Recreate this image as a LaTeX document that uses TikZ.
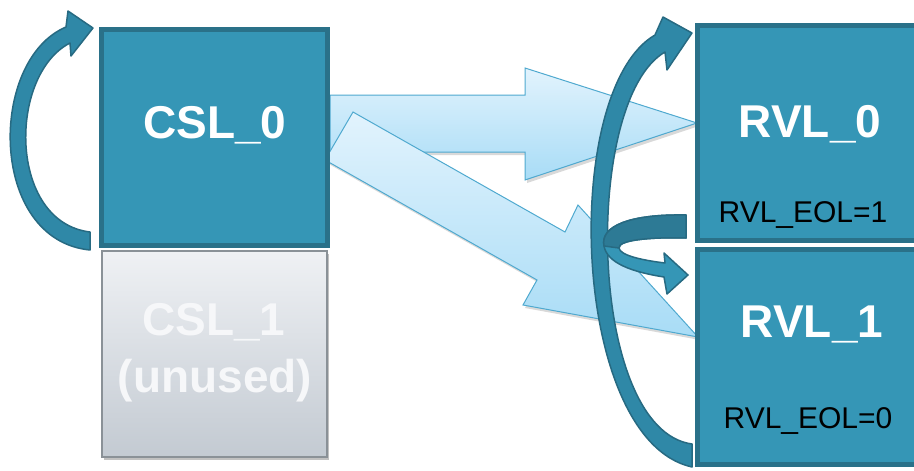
\documentclass[tikz,border=0pt]{standalone}
\usepackage{fontspec}
\setmainfont{Liberation Sans}
\usetikzlibrary{shadows}
\definecolor{boxfill}{HTML}{3596B6}
\definecolor{boxedge}{HTML}{2A7189}
\definecolor{arcfill}{HTML}{2F88A7}
\definecolor{arcedge}{HTML}{276A82}
\definecolor{bandfill}{HTML}{2D7A95}
\definecolor{ltop}{HTML}{E2F3FD}
\definecolor{lbot}{HTML}{A8DCF6}
\definecolor{ledge}{HTML}{4FA9CF}
\definecolor{gtop}{HTML}{EFF1F4}
\definecolor{gbot}{HTML}{C3CAD2}
\definecolor{gedge}{HTML}{8A9197}
\definecolor{gtext}{HTML}{F6F7F9}
\tikzset{
  bluebox/.style={draw=boxedge, fill=boxfill, line width=5pt, inner sep=0pt, outer sep=0pt},
  graybox/.style={draw=gedge, line width=1.5pt, top color=gtop, bottom color=gbot, inner sep=0pt, outer sep=0pt,
    drop shadow={shadow xshift=1.5pt, shadow yshift=-3pt, opacity=.35, fill=black!70}},
  biglbl/.style={font=\fontsize{46}{50}\selectfont\bfseries, text=white, inner sep=0pt, anchor=base},
  eollbl/.style={font=\fontsize{30}{34}\selectfont, text=black, inner sep=0pt, anchor=base},
  lightarrow/.style={draw=ledge, line width=1pt, line join=miter, top color=ltop, bottom color=lbot,
    drop shadow={shadow xshift=2pt, shadow yshift=-3pt, opacity=.25, fill=black!60}},
  darkarc/.style={fill=arcfill, draw=arcedge, line width=1.5pt, line join=round},
}
\begin{document}
\begin{tikzpicture}[x=1pt,y=-1pt]
\useasboundingbox (0,0) rectangle (914,471);
\clip (0,0) rectangle (914,471);

% light blue block arrows
\path[lightarrow] (330,95) -- (525,95) -- (525,68) -- (697,123) -- (525,180) -- (525,152) -- (330,152) -- cycle;
\path[lightarrow] (353,112) -- (565,232) -- (578,205) -- (698,337) -- (523,305) -- (537,280) -- (325,160) -- cycle;

% boxes
\node[bluebox, minimum width=226pt, minimum height=216pt] (csl0) at (214.5,137.5) {};
\node[graybox, minimum width=225pt, minimum height=206pt] (csl1) at (214.5,354) {};
\node[bluebox, minimum width=250pt, minimum height=215pt] (rvl0) at (822.5,133) {};
\node[bluebox, minimum width=250pt, minimum height=215pt] (rvl1) at (822.5,357) {};

% labels
\node[biglbl] (tcsl0) at (215,138) {CSL\_0};
\node[biglbl, text=gtext] (tcsl1) at (214,335) {CSL\_1};
\node[biglbl, text=gtext] (tunused) at (215,392) {(unused)};
\node[biglbl] (trvl0) at (810,137) {RVL\_0};
\node[biglbl] (trvl1) at (812,337) {RVL\_1};
\node[eollbl] (teol1) at (803,222) {RVL\_EOL=1};
\node[eollbl] (teol0) at (808,428) {RVL\_EOL=0};

% left curved arrow (CSL_0 loops to itself)
\path[darkarc] (90,250) .. controls (-12,240) and (-12,60) .. (66,27) -- (68,11) -- (93,28) -- (71,56) -- (70,43)
  .. controls (8,75) and (8,222) .. (90,232) -- cycle;

% right big curved arrow (RVL_1 back to RVL_0)
\path[darkarc] (692,467) .. controls (570,440) and (560,90) .. (655,35) -- (663,17) -- (692,33) -- (667,70) -- (665,52)
  .. controls (582,100) and (587,430) .. (692,444) -- cycle;

% small curl arrow (RVL_0 to RVL_1)
\path[darkarc, fill=boxfill] (686,215) .. controls (630,214) and (600,226) .. (604,246)
  .. controls (607,263) and (632,272) .. (664,277) -- (667,294) -- (688,275) -- (664,253) -- (665,263)
  .. controls (640,260) and (620,255) .. (619,248) .. controls (618,240) and (650,237) .. (686,238) -- cycle;
\path[fill=bandfill, draw=arcedge, line width=1.5pt, line join=round] (686,215) .. controls (630,214) and (600,226) .. (604,246) -- (619,248)
  .. controls (618,240) and (650,237) .. (686,238) -- cycle;
\end{tikzpicture}
\end{document}
